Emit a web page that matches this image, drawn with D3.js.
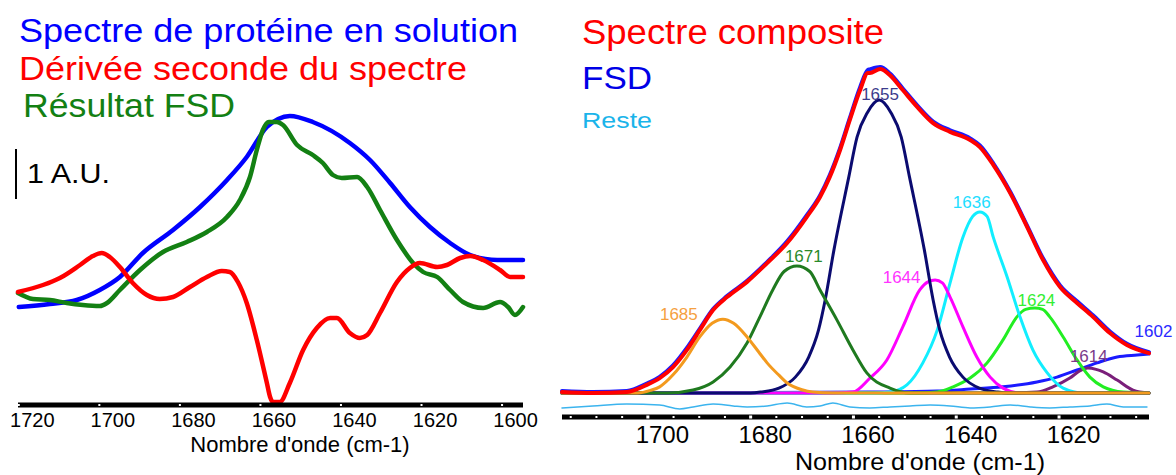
<!DOCTYPE html>
<html><head><meta charset="utf-8">
<script src="https://cdn.jsdelivr.net/npm/d3@7"></script>
<style>body{margin:0;background:#fff} svg{display:block} text{font-family:"Liberation Sans",Arial,sans-serif}</style>
</head><body><svg id="c" width="1176" height="475"></svg>
<script>
// ---------- LEFT PANEL DATA (wavenumber cm-1, absorbance A.U.) ----------
const leftTicks = [1720, 1700, 1680, 1660, 1640, 1620, 1600];
const leftSpectrum = [[1720.0,1.96],[1712.3,2.02],[1705.6,2.10],[1699.9,2.30],[1694.9,2.56],[1689.2,3.04],[1681.7,3.50],[1675.0,3.96],[1668.3,4.50],[1663.4,4.96],[1658.4,5.56],[1655.6,5.72],[1652.7,5.78],[1647.0,5.66],[1637.8,5.24],[1632.8,4.90],[1627.8,4.44],[1622.9,3.96],[1617.9,3.56],[1612.9,3.24],[1607.9,3.00],[1601.2,2.90],[1594.8,2.90]];
const leftFSD = [[1720.2,2.24],[1716.5,2.12],[1712.3,2.10],[1708.1,2.04],[1704.1,2.00],[1699.9,1.98],[1698.1,2.04],[1694.9,2.30],[1689.9,2.70],[1684.2,3.06],[1678.3,3.26],[1673.3,3.46],[1668.3,3.76],[1665.1,4.10],[1662.6,4.56],[1660.9,5.10],[1659.4,5.50],[1657.9,5.66],[1655.9,5.66],[1654.4,5.60],[1650.9,5.20],[1647.0,5.00],[1644.5,4.84],[1642.0,4.60],[1639.8,4.54],[1636.0,4.56],[1633.5,4.36],[1630.3,3.90],[1626.1,3.30],[1622.1,2.84],[1619.6,2.66],[1616.1,2.56],[1612.9,2.30],[1609.7,2.06],[1604.7,1.94],[1600.5,2.06],[1598.5,1.96],[1596.8,1.80],[1594.8,1.96]];
const leftDeriv = [[1720.2,2.26],[1714.0,2.40],[1709.8,2.54],[1704.8,2.80],[1701.6,2.98],[1699.4,3.04],[1697.4,2.96],[1694.9,2.76],[1691.7,2.44],[1688.2,2.20],[1685.0,2.12],[1681.7,2.16],[1677.5,2.36],[1673.3,2.56],[1669.6,2.68],[1667.6,2.66],[1665.6,2.46],[1663.4,2.04],[1660.9,1.30],[1658.4,0.44],[1657.6,0.16],[1656.9,0.06],[1655.2,0.06],[1652.7,0.44],[1649.4,1.10],[1646.0,1.54],[1642.7,1.74],[1641.0,1.74],[1637.8,1.44],[1635.3,1.34],[1633.5,1.40],[1630.3,1.84],[1626.1,2.46],[1622.9,2.74],[1620.4,2.84],[1616.1,2.76],[1613.7,2.80],[1610.4,2.94],[1607.9,2.98],[1604.7,2.90],[1600.5,2.70],[1598.0,2.56],[1594.8,2.56]];
const leftLegend = ["Spectre de protéine en solution", "Dérivée seconde du spectre", "Résultat FSD"];

// ---------- RIGHT PANEL DATA ----------
const rightMajorTicks = [1700, 1680, 1660, 1640, 1620];
const rightMinorTicks = [1715,1710,1705,1700,1695,1690,1685,1680,1675,1670,1665,1660,1655,1650,1645,1640,1635,1630,1625,1620,1615,1610,1605];
const composite = [[1716.7,0.3],[1710.7,0],[1704.1,0.3],[1700.2,2.5],[1697.7,4.6],[1695.1,8.0],[1692.4,13.3],[1689.9,19.4],[1687.3,25.6],[1684.6,29.6],[1680.7,34.3],[1676.8,40.1],[1672.9,46.3],[1669.1,54.3],[1666.5,60.5],[1664.6,66.7],[1662.6,75.0],[1660.7,84.3],[1658.7,93.5],[1657.2,98.8],[1656.8,98.8],[1654.8,100],[1652.9,98.1],[1650.4,93.5],[1647.6,88.3],[1644.5,83.3],[1641.2,80.6],[1637.3,78.1],[1635.4,75.9],[1632.8,70.4],[1629.5,61.7],[1626.2,51.2],[1623.1,41.0],[1619.8,32.7],[1616.5,27.8],[1613.4,23.5],[1610.1,18.5],[1606.8,14.8],[1602.5,12.3]];
const fsdSpectrum = [[1716.7,0.6],[1710.7,0.3],[1704.1,0.6],[1700.2,2.9],[1697.7,5.0],[1695.1,8.5],[1692.4,13.9],[1689.9,19.8],[1687.3,25.9],[1684.6,29.9],[1680.7,34.6],[1676.8,40.4],[1672.9,46.8],[1669.1,54.8],[1666.5,61.0],[1664.6,67.3],[1662.6,75.6],[1660.7,84.9],[1658.7,94.4],[1657.2,99.7],[1656.8,99.9],[1654.8,100.6],[1652.9,98.6],[1650.4,94.0],[1647.6,88.8],[1644.5,83.8],[1641.2,81.1],[1637.3,78.6],[1635.4,76.4],[1632.8,70.9],[1629.5,62.1],[1626.2,51.6],[1623.1,41.5],[1619.8,33.2],[1616.5,28.3],[1613.4,24.0],[1610.1,19.0],[1606.8,15.2],[1602.5,12.6]];
const band1685 = [[1716.7,0],[1702,0],[1699.5,0.8],[1697.7,1.9],[1695.1,5.6],[1692.4,11.1],[1689.9,17.3],[1687.5,21.5],[1685.4,22.8],[1683.3,21.5],[1680.7,17.3],[1678.5,12.8],[1676.8,9.3],[1674.5,5.5],[1672.9,3.1],[1670,1.0],[1667.9,0.3],[1664,0],[1602.5,0]];
const band1671 = [[1716.7,0],[1696,0],[1691.2,0.9],[1687.3,3.4],[1684.0,8.0],[1680.7,15.4],[1678.2,23.5],[1675.7,31.8],[1673.5,37.5],[1671.0,39.2],[1668.5,37.5],[1666.5,31.8],[1663.2,22.5],[1660.1,13.3],[1657.4,6.2],[1652.9,1.5],[1649.0,0],[1602.5,0]];
const band1655 = [[1716.7,0],[1680,0],[1678,0.3],[1674.5,1.5],[1671.3,4.9],[1668.7,11.1],[1666.8,19.4],[1665.5,28.7],[1663.8,44.1],[1660.9,66.7],[1659.3,79.0],[1657.3,86.5],[1655.0,90.4],[1652.7,86.5],[1650.7,79.0],[1649.1,66.7],[1646.2,44.1],[1644.5,28.7],[1643.2,19.4],[1641.3,11.1],[1638.7,4.9],[1635.5,1.5],[1632,0.3],[1630,0],[1602.5,0]];
const band1644 = [[1716.7,0],[1664,0],[1660.1,0.3],[1656.8,4.6],[1653.5,10.2],[1650.4,20.4],[1647.1,31.8],[1645.5,34.3],[1644.1,34.9],[1642.7,34.0],[1641.2,29.6],[1638.7,20.4],[1636.0,11.1],[1633.4,4.9],[1630.9,1.5],[1627.6,0],[1602.5,0]];
const band1636 = [[1716.7,0],[1656,0],[1652.9,0.3],[1649.6,2.5],[1646.5,9.3],[1643.7,19.4],[1641.2,34.0],[1638.7,48.1],[1636.8,54.5],[1635.4,55.9],[1634.0,54.5],[1632.8,48.1],[1630.1,35.8],[1627.6,23.5],[1625.1,13.3],[1622.3,6.2],[1619.2,1.5],[1615.3,0],[1602.5,0]];
const band1624 = [[1716.7,0],[1648,0],[1643.7,0.3],[1640.6,1.9],[1637.3,4.6],[1634.0,9.3],[1630.9,16.4],[1628.2,23.5],[1626.5,25.8],[1624.7,26.2],[1623.2,25.8],[1621.8,23.5],[1619.2,17.3],[1616.5,10.2],[1614.0,4.9],[1611.4,1.9],[1607.5,0.3],[1602.5,0]];
const band1614 = [[1716.7,0],[1630,0],[1624.3,0.3],[1621.2,1.9],[1617.9,4.6],[1616.0,6.8],[1614.4,7.7],[1612.8,7.3],[1611.4,6.5],[1608.7,4.0],[1605.6,0.9],[1602.5,0]];
const band1602 = [[1716.7,0],[1680,0.1],[1656.8,0.3],[1643.7,0.6],[1637.3,1.2],[1630.9,1.9],[1624.3,3.4],[1620.4,4.9],[1616.5,7.1],[1612.6,9.3],[1608.7,11.1],[1604.8,11.7],[1602.5,12.0]];
const reste = [[1716.7,-4.6],[1710.7,-4.0],[1704.1,-3.4],[1697.7,-3.7],[1693.8,-4.9],[1691.2,-4.3],[1687.3,-3.4],[1683.4,-4.0],[1680.7,-4.3],[1676.8,-4.0],[1672.9,-3.1],[1669.1,-4.3],[1666.5,-4.0],[1664.0,-3.1],[1660.7,-4.3],[1656.8,-4.6],[1652.9,-4.3],[1649.0,-4.0],[1645.1,-3.7],[1641.2,-4.0],[1637.3,-4.6],[1633.4,-4.3],[1629.5,-3.7],[1625.6,-4.3],[1621.8,-4.6],[1617.9,-4.3],[1614.0,-4.0],[1610.7,-3.4],[1607.5,-4.3],[1602.9,-4.3]];
const bandLabels = ["1685","1671","1655","1644","1636","1624","1614","1602"];
const bandCenters = [1685, 1671, 1655, 1644, 1636, 1624, 1614, 1602];
const bandHeights = [22.8, 39.2, 90.4, 34.9, 55.9, 26.2, 7.7, 12.0];
const rightLegend = ["Spectre composite", "FSD", "Reste"];

// ---------- STYLE / LAYOUT ----------
const svg = d3.select("#c");
const xL = d3.scaleLinear().domain([1720.2, 1594.8]).range([18, 523]);
const yL = d3.scaleLinear().domain([0, 6]).range([405, 105]);
const xR = d3.scaleLinear().domain([1716.7, 1602.5]).range([562, 1149]);
const yR = d3.scaleLinear().domain([0, 100]).range([393, 69]);

function drawLine(data, xs, ys, color, w) {
  svg.append("path").datum(data)
    .attr("fill", "none").attr("stroke", color).attr("stroke-width", w)
    .attr("stroke-linejoin", "round").attr("stroke-linecap", "round")
    .attr("d", d3.line().x(d => xs(d[0])).y(d => ys(d[1])).curve(d3.curveMonotoneX));
}

// ---- Left panel ----
drawLine(leftSpectrum, xL, yL, "#0000ff", 4.5);
drawLine(leftFSD, xL, yL, "#138013", 4.5);
drawLine(leftDeriv, xL, yL, "#ff0000", 4.5);

svg.append("line").attr("x1", xL.range()[0]).attr("x2", xL.range()[1])
  .attr("y1", 405).attr("y2", 405).attr("stroke", "#000").attr("stroke-width", 5);
svg.selectAll(".ltick").data(leftTicks).enter().append("rect")
  .attr("x", d => xL(d) - 1).attr("y", 404).attr("width", 2).attr("height", 2).attr("fill", "#fff");
const axL = svg.append("g").attr("transform", "translate(0,405)")
  .call(d3.axisBottom(xL).tickValues(leftTicks).tickSize(0).tickFormat(d3.format("d")));
axL.select(".domain").remove();
axL.selectAll("text").attr("dx", 13).attr("y", 22).attr("dy", 0)
  .style("font-size", "20px").style("font-family", "'Liberation Sans',Arial,sans-serif").attr("fill", "#000");
svg.append("text").attr("x", 300).attr("y", 452).attr("text-anchor", "middle")
  .style("font-size", "22px").text("Nombre d'onde (cm-1)");

// scale bar 1 A.U.
svg.append("line").attr("x1", 16).attr("x2", 16).attr("y1", yL(5.12)).attr("y2", yL(4.12))
  .attr("stroke", "#000").attr("stroke-width", 2);
svg.append("text").attr("x", 27).attr("y", 183).style("font-size", "28px")
  .attr("textLength", 83).attr("lengthAdjust", "spacingAndGlyphs").text("1 A.U.");

// legend left
const legLColors = ["#0000ff", "#ff0000", "#138013"];
const legLX = [19, 19, 23], legLY = [42, 80, 117], legLW = [499, 448, 212];
leftLegend.forEach((t, i) => {
  svg.append("text").attr("x", legLX[i]).attr("y", legLY[i]).style("font-size", "33px")
    .attr("fill", legLColors[i]).attr("textLength", legLW[i]).attr("lengthAdjust", "spacingAndGlyphs").text(t);
});

// ---- Right panel ----
const bands = [band1602, band1614, band1624, band1636, band1644, band1655, band1671, band1685];
const bandColors = ["#1a1aff", "#7a1f7a", "#22ee22", "#11eeff", "#ff00ff", "#0b0b70", "#1f7a1f", "#f39a1e"];
bands.forEach((b, i) => drawLine(b, xR, yR, bandColors[i], 3));
drawLine(fsdSpectrum, xR, yR, "#1a1aff", 4);
drawLine(composite, xR, yR, "#ff0000", 4);
drawLine(reste, xR, yR, "#3cb4ee", 1.5);

svg.append("line").attr("x1", xR.range()[0]).attr("x2", xR.range()[1])
  .attr("y1", 417).attr("y2", 417).attr("stroke", "#000").attr("stroke-width", 5);
svg.selectAll(".rminor").data(rightMinorTicks).enter().append("rect")
  .attr("x", d => xR(d) - (d % 20 === 0 ? 1.5 : 1)).attr("y", d => d % 20 === 0 ? 415.5 : 416)
  .attr("width", d => d % 20 === 0 ? 3 : 2).attr("height", d => d % 20 === 0 ? 3 : 2).attr("fill", "#fff");
const axR = svg.append("g").attr("transform", "translate(0,417)")
  .call(d3.axisBottom(xR).tickValues(rightMajorTicks).tickSize(0).tickFormat(d3.format("d")));
axR.select(".domain").remove();
axR.selectAll("text").attr("dx", 14).attr("y", 26).attr("dy", 0)
  .style("font-size", "24px").style("font-family", "'Liberation Sans',Arial,sans-serif").attr("fill", "#000");
svg.append("text").attr("x", 920).attr("y", 470).attr("text-anchor", "middle")
  .style("font-size", "24px").attr("textLength", 250).attr("lengthAdjust", "spacingAndGlyphs")
  .text("Nombre d'onde (cm-1)");

// peak labels
const labelColors = ["#f5a040", "#2a8a2a", "#3c3c8c", "#ff33ff", "#22ddff", "#33ee33", "#7a3a8a", "#2a2aff"];
const labelDx = [-65, -12, -18, -53, -24, -21, -20, -17];
const labelDy = [1, -4, 0, 3, -4, -2, -6, -17];
bandLabels.forEach((t, i) => {
  svg.append("text").attr("x", xR(bandCenters[i]) + labelDx[i]).attr("y", yR(bandHeights[i]) + labelDy[i])
    .style("font-size", "17px").attr("fill", labelColors[i]).text(t);
});

// legend right
const legRColors = ["#ff0000", "#0000e6", "#1ab4ea"];
const legRY = [44, 89, 128], legRW = [302, 70, 70], legRS = [35, 31, 22];
rightLegend.forEach((t, i) => {
  svg.append("text").attr("x", 582).attr("y", legRY[i]).style("font-size", legRS[i] + "px")
    .attr("fill", legRColors[i]).attr("textLength", legRW[i]).attr("lengthAdjust", "spacingAndGlyphs").text(t);
});
</script></body></html>
